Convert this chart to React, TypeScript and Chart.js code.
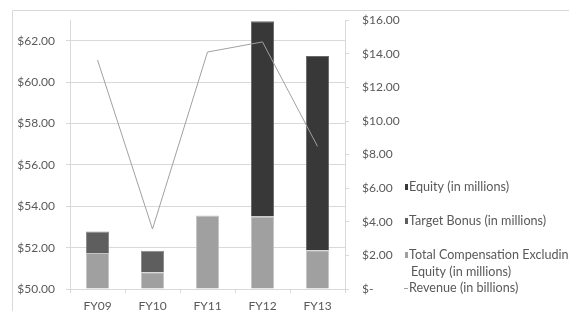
import React, { useEffect, useRef } from "react";
import { Chart, registerables } from "chart.js";

Chart.register(...registerables);

const categories = ["FY09", "FY10", "FY11", "FY12", "FY13"];
const totalCompExEquity = [2.15, 0.99, 4.37, 4.31, 2.3];
const targetBonus = [1.27, 1.29, null, null, null];
const equity = [null, null, null, 11.63, 11.57];
const revenue = [61.08, 52.9, 61.46, 61.95, 56.9];
const leftTicks = [50, 52, 54, 56, 58, 60, 62];
const rightTicks = [0, 2, 4, 6, 8, 10, 12, 14, 16];

const legendItems = [
  { lines: ["Equity (in millions)"], color: "#383838", kind: "box", y: 187 },
  { lines: ["Target Bonus (in millions)"], color: "#5e5e5e", kind: "box", y: 221 },
  { lines: ["Total Compensation Excluding", "Equity (in millions)"], color: "#a0a0a0", kind: "box", y: 255 },
  { lines: ["Revenue (in billions)"], color: "#a0a0a0", kind: "line", y: 288 },
];

const FONT = "Lato, 'Open Sans', sans-serif";
const TEXT = "#595959";
const GRID = "#d9d9d9";

const fmt = (v: number) => (v === 0 ? "$-" : "$" + v.toFixed(2));

export default function App() {
  const ref = useRef<HTMLCanvasElement | null>(null);

  useEffect(() => {
    document.body.style.margin = "0";
    const canvas = ref.current!;
    const framePlugin = {
      id: "frame",
      afterDraw(chart: any) {
        const ctx = chart.ctx;
        ctx.save();
        ctx.strokeStyle = GRID;
        ctx.lineWidth = 1;
        ctx.beginPath();
        ctx.moveTo(12.5, 311);
        ctx.lineTo(12.5, 10.5);
        ctx.lineTo(569, 10.5);
        ctx.stroke();
        ctx.font = "12.6px " + FONT;
        ctx.textBaseline = "middle";
        legendItems.forEach((it) => {
          ctx.fillStyle = it.color;
          if (it.kind === "box") {
            ctx.fillRect(405, it.y - 3, 3, 6);
          } else {
            ctx.fillRect(404, it.y, 4, 1);
          }
          ctx.fillStyle = TEXT;
          it.lines.forEach((ln, i) => {
            ctx.fillText(ln, i === 0 ? 409 : 411, it.y + i * 17);
          });
        });
        ctx.restore();
      },
    };
    const barCommon = {
      yAxisID: "y1",
      borderWidth: 1,
      barPercentage: 0.42,
      categoryPercentage: 1,
      stack: "s",
    };
    const chart = new Chart(canvas, {
      type: "bar",
      data: {
        labels: categories,
        datasets: [
          {
            type: "line",
            label: "Revenue (in billions)",
            data: revenue,
            yAxisID: "y",
            borderColor: "#a0a0a0",
            borderWidth: 1,
            pointRadius: 0,
            order: -1,
          } as any,
          {
            ...barCommon,
            label: "Total Compensation Excluding Equity (in millions)",
            data: totalCompExEquity,
            backgroundColor: "#a0a0a0",
            borderColor: "#c4c4c4",
          },
          {
            ...barCommon,
            label: "Target Bonus (in millions)",
            data: targetBonus,
            backgroundColor: "#5e5e5e",
            borderColor: "#8a8a8a",
          },
          {
            ...barCommon,
            label: "Equity (in millions)",
            data: equity,
            backgroundColor: "#383838",
            borderColor: "#6a6a6a",
          },
        ],
      },
      options: {
        responsive: false,
        animation: false,
        layout: { padding: { top: 18, left: 0, right: 0, bottom: 0 } },
        plugins: { legend: { display: false }, tooltip: { enabled: false } },
        scales: {
          x: {
            stacked: true,
            offset: true,
            grid: { display: true, drawOnChartArea: false, offset: true, tickLength: 4, color: GRID },
            border: { display: true, color: GRID },
            ticks: { color: TEXT, font: { family: FONT, size: 12 }, padding: 6, maxRotation: 0 },
            afterFit(scale: any) {
              scale.height = 22;
            },
          },
          y: {
            position: "left",
            min: 50,
            max: 63,
            grid: { color: GRID, tickLength: 4 },
            border: { display: true, color: GRID },
            ticks: {
              color: TEXT,
              font: { family: FONT, size: 12 },
              padding: 11,
              callback: (v: any) => "$" + Number(v).toFixed(2),
            },
            afterBuildTicks(scale: any) {
              scale.ticks = leftTicks.map((v) => ({ value: v }));
            },
            afterFit(scale: any) {
              scale.width = 70;
            },
          },
          y1: {
            position: "right",
            stacked: true,
            min: 0,
            max: 16,
            grid: { drawOnChartArea: false, color: GRID, tickLength: 4 },
            border: { display: true, color: GRID },
            ticks: {
              color: TEXT,
              font: { family: FONT, size: 12 },
              padding: 13,
              callback: (v: any) => fmt(Number(v)),
            },
            afterBuildTicks(scale: any) {
              scale.ticks = rightTicks.map((v) => ({ value: v }));
            },
            afterFit(scale: any) {
              scale.width = 224;
            },
          },
        },
      },
      plugins: [framePlugin],
    } as any);
    return () => chart.destroy();
  }, []);

  return (
    <div style={{ width: 569, height: 311, background: "#fff" }}>
      <canvas ref={ref} width={569} height={311} style={{ display: "block" }} />
    </div>
  );
}
